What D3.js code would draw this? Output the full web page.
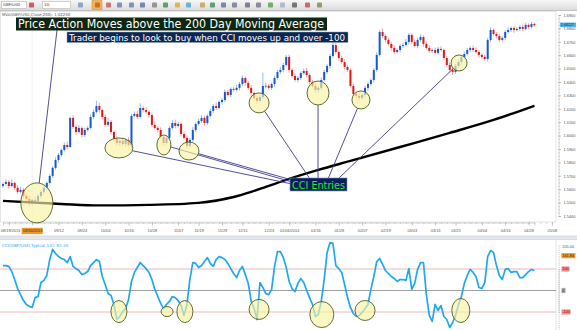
<!DOCTYPE html>
<html><head><meta charset="utf-8">
<script src="https://cdnjs.cloudflare.com/ajax/libs/d3/7.8.5/d3.min.js"></script>
<style>body{margin:0;background:#fff;}svg{display:block;}</style>
</head><body><svg id="chart" width="577" height="330"></svg>
<script>
// ---------- DATA ----------
const closes = [
1.5639,1.5654,1.5624,1.5647,1.5610,1.5580,1.5595,1.5550,1.5527,1.5498,
1.5520,1.5513,1.5550,1.5580,1.5610,1.5647,1.5699,1.5759,1.5818,1.5856,
1.5893,1.5930,1.5915,1.6132,1.6065,1.6027,1.6057,1.6005,1.6042,1.6057,
1.6139,1.6177,1.6221,1.6191,1.6139,1.6080,1.6102,1.6027,1.5975,1.5945,
1.5960,1.5938,1.5968,1.5930,1.6147,1.6162,1.6139,1.6206,1.6191,1.6177,
1.6154,1.6080,1.6057,1.6042,1.5990,1.5945,1.5983,1.6057,1.6094,1.6072,
1.6087,1.6012,1.5983,1.5923,1.5968,1.6042,1.6087,1.6109,1.6132,1.6094,
1.6147,1.6184,1.6221,1.6206,1.6251,1.6266,1.6326,1.6303,1.6348,1.6341,
1.6356,1.6385,1.6430,1.6393,1.6356,1.6318,1.6281,1.6259,1.6288,1.6370,
1.6372,1.6356,1.6385,1.6430,1.6475,1.6490,1.6527,1.6587,1.6490,1.6445,
1.6415,1.6430,1.6467,1.6482,1.6452,1.6400,1.6370,1.6341,1.6356,1.6415,
1.6475,1.6520,1.6594,1.6676,1.6624,1.6579,1.6549,1.6512,1.6490,1.6370,
1.6311,1.6296,1.6281,1.6303,1.6356,1.6385,1.6415,1.6490,1.6602,1.6773,
1.6743,1.6714,1.6684,1.6654,1.6624,1.6639,1.6669,1.6676,1.6699,1.6751,
1.6699,1.6669,1.6714,1.6736,1.6684,1.6654,1.6632,1.6639,1.6617,1.6647,
1.6639,1.6579,1.6527,1.6490,1.6475,1.6520,1.6549,1.6587,1.6609,1.6639,
1.6654,1.6639,1.6624,1.6602,1.6587,1.6572,1.6714,1.6788,1.6758,1.6743,
1.6714,1.6729,1.6773,1.6788,1.6803,1.6788,1.6796,1.6811,1.6796,1.6826,
1.6811,1.6833,1.6823];
const opens = [
1.5625,1.5639,1.5654,1.5624,1.5647,1.5610,1.5580,1.5595,1.5550,1.5527,
1.5498,1.5520,1.5513,1.5550,1.5580,1.5610,1.5647,1.5699,1.5759,1.5818,
1.5856,1.5893,1.5930,1.5915,1.6132,1.6065,1.6027,1.6057,1.6005,1.6042,
1.6057,1.6139,1.6177,1.6221,1.6191,1.6139,1.6080,1.6102,1.6027,1.5975,
1.5945,1.5960,1.5938,1.5968,1.5930,1.6147,1.6162,1.6139,1.6206,1.6191,
1.6177,1.6154,1.6080,1.6057,1.6042,1.5990,1.5945,1.5983,1.6057,1.6094,
1.6072,1.6087,1.6012,1.5983,1.5923,1.5968,1.6042,1.6087,1.6109,1.6132,
1.6094,1.6147,1.6184,1.6221,1.6206,1.6251,1.6266,1.6326,1.6303,1.6348,
1.6341,1.6356,1.6385,1.6430,1.6393,1.6356,1.6318,1.6281,1.6259,1.6288,
1.6370,1.6372,1.6356,1.6385,1.6430,1.6475,1.6490,1.6527,1.6587,1.6490,
1.6445,1.6415,1.6430,1.6467,1.6482,1.6452,1.6400,1.6370,1.6341,1.6356,
1.6415,1.6475,1.6520,1.6594,1.6676,1.6624,1.6579,1.6549,1.6512,1.6490,
1.6370,1.6311,1.6296,1.6281,1.6303,1.6356,1.6385,1.6415,1.6490,1.6602,
1.6773,1.6743,1.6714,1.6684,1.6654,1.6624,1.6639,1.6669,1.6676,1.6699,
1.6751,1.6699,1.6669,1.6714,1.6736,1.6684,1.6654,1.6632,1.6639,1.6617,
1.6647,1.6639,1.6579,1.6527,1.6490,1.6475,1.6520,1.6549,1.6587,1.6609,
1.6639,1.6654,1.6639,1.6624,1.6602,1.6587,1.6572,1.6714,1.6788,1.6758,
1.6743,1.6714,1.6729,1.6773,1.6788,1.6803,1.6788,1.6796,1.6811,1.6796,
1.6826,1.6811,1.6833];
// wick extents in pips above / below the candle body
const wickUp = [
12,20,15,25,10,18,22,12,15,20,10,25,15,12,18,10,15,12,20,14,
10,18,25,8,20,15,22,12,18,15,20,15,40,25,12,18,30,15,12,20,
18,25,12,20,15,18,25,35,15,20,12,18,25,15,20,12,18,15,22,25,
15,12,20,18,15,22,12,18,20,15,12,18,15,25,12,15,20,15,12,18,
22,15,18,12,15,20,12,18,15,100,20,15,12,18,15,22,15,15,18,12,
20,15,12,18,25,12,15,20,12,18,15,12,18,20,15,12,18,22,15,12,
18,15,20,12,15,18,12,15,20,15,25,12,18,15,20,12,15,18,22,15,
12,18,15,20,12,15,22,12,18,15,20,12,15,18,12,15,20,12,18,15,
12,18,20,15,12,18,15,20,12,15,18,12,15,20,12,18,15,12,18,15,
12,15,10];
const wickDown = [
15,12,20,10,18,15,12,20,15,25,18,12,20,15,12,18,10,15,12,20,
15,12,18,5,15,20,12,18,15,12,10,15,12,20,18,12,15,20,15,18,
22,15,20,12,25,10,15,12,18,15,20,15,12,18,15,22,12,15,10,18,
12,20,15,18,12,15,18,12,15,20,15,12,18,15,12,20,15,12,18,15,
12,18,15,20,12,18,15,22,12,15,18,12,15,20,12,15,18,12,20,15,
12,18,15,12,20,15,12,18,22,15,12,15,18,12,15,20,12,18,15,12,
20,15,18,12,15,20,12,18,15,12,15,18,12,20,15,12,18,15,12,20,
15,12,18,15,20,12,15,18,12,15,12,18,15,20,22,15,12,18,15,12,
18,15,12,20,15,12,18,15,12,18,15,12,18,12,15,20,12,15,18,12,
15,12,10];
const cci = [
116,116,112,88,51,9,-19,-47,-65,-74,
-79,-33,-28,37,47,70,144,191,172,158,
149,144,130,158,112,102,93,74,79,88,
116,130,144,135,65,28,-14,-23,-65,-135,
-121,-98,-84,-42,42,84,107,130,116,102,
84,51,5,-28,-60,-84,-65,-51,-28,-33,
-47,-70,-116,-65,51,130,126,107,116,135,
153,126,112,144,158,153,144,126,102,79,
60,93,112,74,33,-51,-84,-135,37,14,
-14,-19,5,112,181,181,153,107,42,9,
-5,33,56,37,0,-33,-65,-121,-112,-51,
51,177,223,219,116,102,84,28,-33,-79,
-107,-121,-116,-102,-84,-65,5,65,135,149,
121,93,79,65,56,42,51,51,47,102,
5,33,98,130,130,-19,-116,-144,-65,-93,
-70,-121,-135,-172,-149,-116,-65,-28,33,70,
98,84,65,14,9,37,158,186,177,116,
70,51,98,102,84,88,88,60,60,74,
88,98,93];
const maIndex = [0,20,33,50,67,79,85,90,98,108,119,136,153,168,182];
const maValue = [1.5513,1.5490,1.5479,1.5483,1.5498,1.5542,1.5580,1.5617,1.5677,1.5744,1.5811,1.5915,1.6020,1.6117,1.6223];
const dateLabels = ["08/19/2013","08/30/2013","09/12","09/24","10/04","10/16","10/28","11/07","11/19","11/29","12/11","12/23","01/06/2014","01/16","01/28","02/07","02/19","03/03","03/13","03/25","04/04","04/16","04/28","05/08"];
const dateIndex = [2,10,19,27,35,43,51,60,67,75,82,91,98,107,115,123,131,140,148,155,164,172,180,188];
const priceTicks = [1.54,1.55,1.56,1.57,1.58,1.59,1.60,1.61,1.62,1.63,1.64,1.65,1.66,1.67,1.68,1.69];
const lastPrice = 1.68227;
// breakout circle and CCI entry points (candle index, price / CCI value)
const breakoutIndex = 11.6, breakoutPrice = 1.5498;
const entryIndex = [39.7,55.1,63.7,87.7,107.9,122.6,156.2];
const entryPrice = [1.5908,1.5930,1.5885,1.6244,1.6318,1.6266,1.6542];
const cciEntryIndex = [39.7,56.2,62.3,87.7,109.2,124,156.8];
const cciEntryValue = [-98,-98,-98,-88,-112,-93,-93];

// ---------- LAYOUT ----------
const svg = d3.select('#chart');
const FONT = 'DejaVu Sans, sans-serif';
const AXF = 'Liberation Sans, Arial, sans-serif';
const x = d3.scaleLinear().domain([0,182]).range([3,534.4]);
const y = d3.scaleLinear().domain([1.54,1.69]).range([216,15]);
const yc = d3.scaleLinear().domain([-100,100]).range([312,269]);
const plotR = 556;

const defs = svg.append('defs');
const gr = defs.append('linearGradient').attr('id','tbg').attr('x1',0).attr('x2',0).attr('y1',0).attr('y2',1);
gr.append('stop').attr('offset',0).attr('stop-color','#f7f7f7');
gr.append('stop').attr('offset',1).attr('stop-color','#dcdcdc');
defs.append('clipPath').attr('id','cpMain').append('rect').attr('x',0).attr('y',11).attr('width',plotR).attr('height',211);
defs.append('clipPath').attr('id','cpCci').append('rect').attr('x',0).attr('y',240).attr('width',plotR).attr('height',90);

svg.append('rect').attr('width',577).attr('height',330).attr('fill','#fff');

// toolbar
svg.append('rect').attr('width',577).attr('height',10).attr('fill','url(#tbg)');
svg.append('line').attr('x1',0).attr('x2',577).attr('y1',10.5).attr('y2',10.5).attr('stroke','#c2c2c2');
const tb = svg.append('g').attr('font-family',FONT).attr('font-size',3.8);
tb.append('rect').attr('x',1.5).attr('y',1.5).attr('width',25).attr('height',7).attr('fill','#fff').attr('stroke','#a8a8a8').attr('stroke-width',0.5);
tb.append('text').attr('x',3).attr('y',6.3).attr('fill','#333').text('GBP/USD');
tb.append('rect').attr('x',42.5).attr('y',1.5).attr('width',28).attr('height',7).attr('fill','#fff').attr('stroke','#a8a8a8').attr('stroke-width',0.5);
tb.append('text').attr('x',44).attr('y',6.3).attr('fill','#333').text('1D');
tb.append('rect').attr('x',92).attr('y',0.5).attr('width',10).attr('height',9).attr('fill','#f2b35a').attr('stroke','#d08a2a').attr('stroke-width',0.5);
const icons = [[29,'#c83030'],[78,'#6f8fc0'],[95,'#c05a10'],[106,'#c05050'],[117,'#5a78a8'],[129,'#5a78a8'],[140,'#4a68a0'],[152,'#7a7a7a'],[163,'#2a8a3a'],[175,'#e0a020'],[186,'#3aa0d0'],[200,'#c09a40'],[210,'#2a8a4a'],[221,'#4a68a0'],[232,'#6a6a8a'],[245,'#5a5a7a'],[256,'#6a6a8a'],[268,'#4a9a3a'],[280,'#a0a8c8'],[292,'#505050'],[305,'#c04040'],[317,'#6a8a40']];
tb.selectAll('rect.ic').data(icons).join('rect').attr('class','ic')
  .attr('x',d=>d[0]).attr('y',2.5).attr('width',5).attr('height',5).attr('rx',0.8)
  .attr('fill',d=>d[1]).attr('opacity',0.75);

// MVA label
svg.append('text').attr('x',2).attr('y',15.5).attr('font-family',FONT).attr('font-size',3.9).attr('fill','#555')
  .text('MVA(GBP/USD,Close,200): 1.62230');

// main panel frame
svg.append('rect').attr('x',0.5).attr('y',11.5).attr('width',plotR-0.5).attr('height',210.5).attr('fill','none').attr('stroke','#d4d4d4').attr('stroke-width',0.6);
// crosshair
svg.append('line').attr('x1',x(dateIndex[1])).attr('x2',x(dateIndex[1])).attr('y1',11).attr('y2',222)
  .attr('stroke','#d0d0d0').attr('stroke-width',0.6).attr('stroke-dasharray','1,1.5');

// candles
const candles = closes.map((c,i)=>({i,o:opens[i],c,h:Math.max(opens[i],c)+wickUp[i]/1e4,l:Math.min(opens[i],c)-wickDown[i]/1e4}));
const cg = svg.append('g').attr('clip-path','url(#cpMain)');
cg.selectAll('line.wick').data(candles).join('line').attr('class','wick')
  .attr('x1',d=>x(d.i)).attr('x2',d=>x(d.i)).attr('y1',d=>y(d.h)).attr('y2',d=>y(d.l))
  .attr('stroke',d=>d.c>=d.o?'#7ea6e6':'#ee8a8a').attr('stroke-width',0.8);
cg.selectAll('rect.body').data(candles).join('rect').attr('class','body')
  .attr('x',d=>x(d.i)-1).attr('width',2)
  .attr('y',d=>y(Math.max(d.o,d.c)))
  .attr('height',d=>Math.max(0.8,Math.abs(y(d.o)-y(d.c))))
  .attr('fill',d=>d.c>=d.o?'#1458d2':'#e01818');

// moving average
const ma = maIndex.map((v,k)=>[v,maValue[k]]);
cg.append('path').datum(ma).attr('fill','none').attr('stroke','#000').attr('stroke-width',2.4)
  .attr('d',d3.line().x(d=>x(d[0])).y(d=>y(d[1])).curve(d3.curveMonotoneX));

// price axis
const pa = svg.append('g').attr('transform','translate(558.5,0)')
  .call(d3.axisRight(y).tickValues(priceTicks).tickFormat(d3.format('.4f')).tickSize(2.5).tickPadding(2.5));
pa.select('.domain').attr('stroke','#c0c0c0').attr('stroke-width',0.6);
pa.selectAll('.tick line').attr('stroke','#999').attr('stroke-width',0.6);
pa.selectAll('text').attr('font-family',AXF).attr('font-size',3.9).attr('fill','#555');
const pm = svg.append('g').attr('transform','translate(558.5,0)')
  .call(d3.axisRight(y).tickValues(d3.range(1.54,1.6901,0.0025)).tickFormat('').tickSize(1.5));
pm.select('.domain').remove();
pm.selectAll('.tick line').attr('stroke','#aaa').attr('stroke-width',0.5);
// last price tag
svg.append('rect').attr('x',560).attr('y',y(lastPrice)-2.8).attr('width',16).attr('height',4.6).attr('fill','#56b4ef');
svg.append('text').attr('x',560.8).attr('y',y(lastPrice)+0.8).attr('font-family',AXF).attr('font-size',3.7).attr('fill','#0d2a50').text(d3.format('.5f')(lastPrice));

// date axis
svg.append('rect').attr('x',x(dateIndex[1])-10.5).attr('y',227.8).attr('width',21).attr('height',6.4).attr('fill','#ec9a35');
const da = svg.append('g').attr('transform','translate(0,222.5)')
  .call(d3.axisBottom(x).tickValues(dateIndex).tickFormat((d,i)=>dateLabels[i]).tickSize(3).tickPadding(4));
da.select('.domain').attr('stroke','#bdbdbd').attr('stroke-width',0.7);
da.selectAll('.tick line').attr('stroke','#999').attr('stroke-width',0.6);
da.selectAll('text').attr('font-family',AXF).attr('font-size',3.9).attr('fill',(d,i)=>i===1?'#3a2000':'#555');
da.selectAll('.tick text').filter((d,i)=>i===0).attr('text-anchor','start').attr('dx',-x(dateIndex[0])+0.3);
const dm = svg.append('g').attr('transform','translate(0,222.5)')
  .call(d3.axisBottom(x).tickValues(d3.range(0,190,2)).tickFormat('').tickSize(1.5));
dm.select('.domain').remove();
dm.selectAll('.tick line').attr('stroke','#aaa').attr('stroke-width',0.5);

// separator
svg.append('rect').attr('x',0).attr('y',236).attr('width',577).attr('height',3.5).attr('fill','#e3e7ec');
svg.append('line').attr('x1',0).attr('x2',577).attr('y1',236).attr('y2',236).attr('stroke','#c8ccd2').attr('stroke-width',0.6);
svg.append('line').attr('x1',0).attr('x2',577).attr('y1',239.5).attr('y2',239.5).attr('stroke','#c8ccd2').attr('stroke-width',0.6);

// CCI panel
svg.append('line').attr('x1',plotR).attr('x2',plotR).attr('y1',240).attr('y2',330).attr('stroke','#d4d4d4').attr('stroke-width',0.6);
svg.append('text').attr('x',2).attr('y',247).attr('font-family',FONT).attr('font-size',4.2).attr('fill','#35a4e0')
  .text('CCI(GBP/USD,Typical,14): 92.35');
const ccg = svg.append('g').attr('clip-path','url(#cpCci)');
ccg.selectAll('line.lvl').data([100,-100,0]).join('line').attr('class','lvl')
  .attr('x1',0).attr('x2',plotR).attr('y1',d=>yc(d)).attr('y2',d=>yc(d))
  .attr('stroke',d=>d===0?'#a0a0a0':'#f4b8b8').attr('stroke-width',1.2);
ccg.append('path').datum(cci).attr('fill','none').attr('stroke','#1ea8f2').attr('stroke-width',1.7).attr('stroke-linejoin','round')
  .attr('d',d3.line().x((d,i)=>x(i)).y(d=>yc(d)));
const cciR = [[8,11],[6,5],[8,11],[10,10],[12,13],[10,10],[9,12]];
ccg.selectAll('ellipse').data(cciEntryIndex).join('ellipse')
  .attr('cx',d=>x(d)).attr('cy',(d,k)=>yc(cciEntryValue[k]))
  .attr('rx',(d,k)=>cciR[k][0]).attr('ry',(d,k)=>cciR[k][1])
  .attr('fill','#f7f3a2').attr('fill-opacity',0.65).attr('stroke','#4e5e26').attr('stroke-width',0.9);

// CCI axis
const ca = svg.append('g').attr('transform','translate(558.5,0)')
  .call(d3.axisRight(yc).tickValues(d3.range(-200,211,10)).tickFormat('').tickSize(1.5));
ca.select('.domain').attr('stroke','#c0c0c0').attr('stroke-width',0.6);
ca.selectAll('.tick line').attr('stroke','#aaa').attr('stroke-width',0.5);
const cTags = [[205,'205.00',null,'#555',0],[161.84,'161.84','#ee9a30','#3a2000',14],[100,'100','#f09090','#8a0000',8],[0,'0','#a8a8a8','#222',4],[-100,'-100','#f09090','#8a0000',9]];
cTags.forEach(t=>{
  if(t[2]) svg.append('rect').attr('x',561.5).attr('y',yc(t[0])-2.6).attr('width',t[4]).attr('height',5.2).attr('fill',t[2]);
  svg.append('text').attr('x',562.3).attr('y',yc(t[0])+1.4).attr('font-family',AXF).attr('font-size',3.9).attr('fill',t[3]).text(t[1]);
});

// ---------- ANNOTATIONS ----------
function edge(cx,cy,rx,ry,tx,ty){const dx=tx-cx,dy=ty-cy;const t=1/Math.sqrt((dx/rx)**2+(dy/ry)**2);return [cx+dx*t,cy+dy*t];}
const ann = svg.append('g');
const entR = [[14,10],[7,10],[10,9],[10,10],[11,12],[9,9],[8,8]];
const targets = [[292,184],[292,182],[292,180],[310,179],[318,179],[328,179],[338,179]];
const bc = [x(breakoutIndex),y(breakoutPrice)];
const bs = edge(bc[0],bc[1],16,20,57,30);
ann.append('line').attr('x1',57).attr('y1',30).attr('x2',bs[0]).attr('y2',bs[1]).attr('stroke','#3d3d8f').attr('stroke-width',0.9);
entryIndex.forEach((ei,k)=>{
  const cx=x(ei), cy=y(entryPrice[k]);
  const s=edge(cx,cy,entR[k][0],entR[k][1],targets[k][0],targets[k][1]);
  ann.append('line').attr('x1',s[0]).attr('y1',s[1]).attr('x2',targets[k][0]).attr('y2',targets[k][1]).attr('stroke','#3d3d8f').attr('stroke-width',0.9);
});
ann.append('ellipse').attr('cx',bc[0]).attr('cy',bc[1]).attr('rx',16).attr('ry',20)
  .attr('fill','#f7f3a2').attr('fill-opacity',0.65).attr('stroke','#4e5e26').attr('stroke-width',0.9);
ann.selectAll('ellipse.ent').data(entryIndex).join('ellipse').attr('class','ent')
  .attr('cx',d=>x(d)).attr('cy',(d,k)=>y(entryPrice[k]))
  .attr('rx',(d,k)=>entR[k][0]).attr('ry',(d,k)=>entR[k][1])
  .attr('fill','#f7f3a2').attr('fill-opacity',0.65).attr('stroke','#4e5e26').attr('stroke-width',0.9);

// text boxes
ann.append('rect').attr('x',16).attr('y',17.5).attr('width',311).attr('height',13).attr('fill','#0e2612');
ann.append('text').attr('x',18).attr('y',28.3).attr('font-family',FONT).attr('font-size',12.5).attr('fill','#fff')
  .attr('textLength',306).attr('lengthAdjust','spacingAndGlyphs').text('Price Action Moves above the 200 Day Moving Average');
ann.append('rect').attr('x',67).attr('y',32).attr('width',281).attr('height',10.5).attr('fill','#0b2752').attr('stroke','#8fa3c8').attr('stroke-width',0.5);
ann.append('text').attr('x',69).attr('y',40.6).attr('font-family',FONT).attr('font-size',9.5).attr('fill','#fff')
  .attr('textLength',276).attr('lengthAdjust','spacingAndGlyphs').text('Trader begins to look to buy when CCI moves up and over -100');
ann.append('rect').attr('x',290).attr('y',178).attr('width',57).attr('height',13).attr('fill','#0a1f58').attr('stroke','#7d90c4').attr('stroke-width',0.6);
ann.append('text').attr('x',292).attr('y',188.6).attr('font-family',FONT).attr('font-size',11).attr('fill','#35e035')
  .attr('textLength',53).attr('lengthAdjust','spacingAndGlyphs').text('CCI Entries');
</script></body></html>
